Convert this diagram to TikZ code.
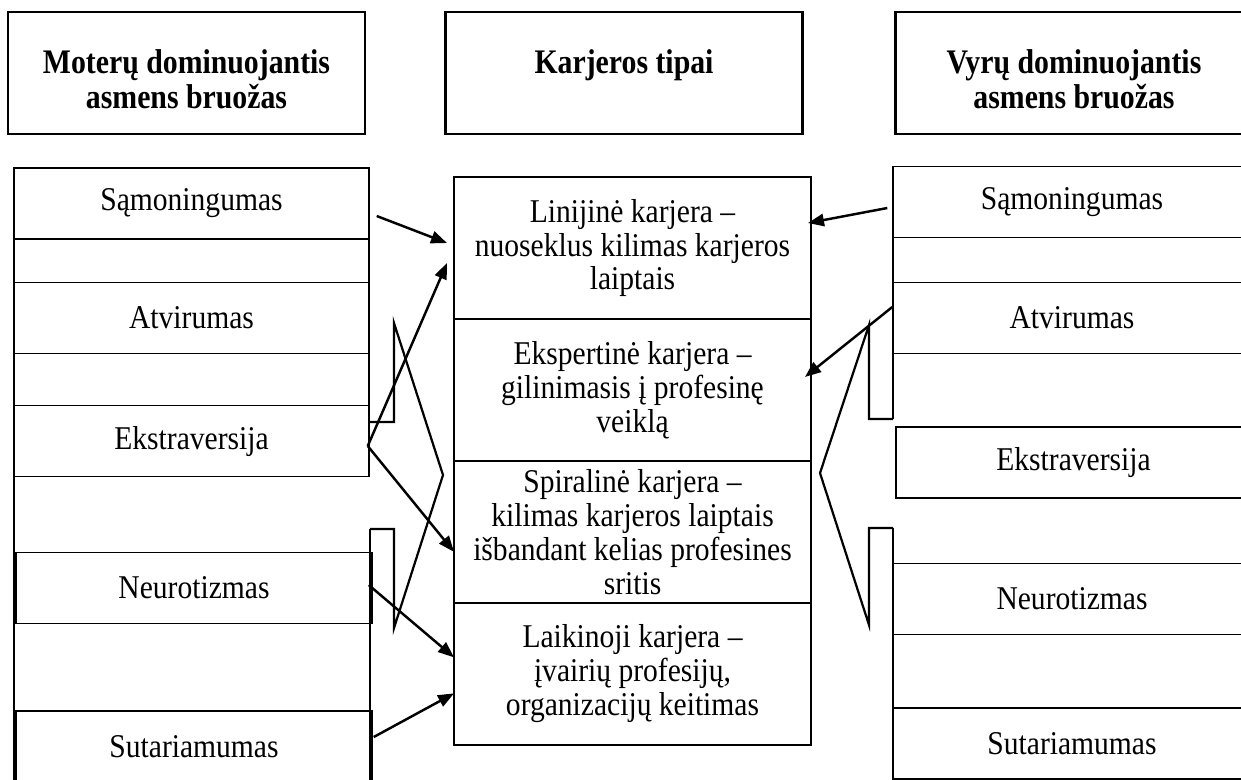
\documentclass[tikz,border=0pt]{standalone}
\usepackage{fontspec}
\setmainfont{Liberation Serif}[FakeStretch=0.89, BoldFeatures={FakeStretch=0.865}]
\usetikzlibrary{arrows.meta,positioning}
\newcommand{\headtext}[1]{\raisebox{-4.6pt}[\height][\depth]{\begin{tabular}{@{}c@{}}#1\end{tabular}}}
\tikzstyle{head} = [draw, line width=1.2pt, rectangle, minimum width=145.1pt, minimum height=49.6pt, align=center, font=\fontsize{14}{14.2}\selectfont\bfseries]
\tikzstyle{typecell} = [draw, line width=0.6pt, rectangle, minimum width=145.1pt, minimum height=57.7pt, outer sep=0pt, align=center, font=\fontsize{13.5}{13.8}\selectfont]
\tikzstyle{trait} = [draw, line width=0.6pt, rectangle, minimum width=144.3pt, minimum height=28.9pt, font=\fontsize{13.5}{13.8}\selectfont]
\tikzstyle{frame} = [draw, line width=0.6pt]
\tikzstyle{arrowline} = [draw, line width=1pt, -{Triangle[length=6.5pt,width=5pt]}]

\begin{document}
\begin{tikzpicture}[x=0.4065pt, y=-0.4065pt]
    \useasboundingbox (0,0) rectangle (1241,779);

    % Place nodes
    \node [head] (hWomen) at (186.5,73) {\headtext{Moterų dominuojantis\\ asmens bruožas}};
    \node [head] (hTypes) at (624,73) {\headtext{Karjeros tipai\\ \strut}};
    \node [head] (hMen) at (1074,73) {\headtext{Vyrų dominuojantis\\ asmens bruožas}};

    \node [typecell] (linear) at (632.5,248) {Linijinė karjera --\\ nuoseklus kilimas karjeros\\ laiptais};
    \node [typecell, below=0pt of linear] (expert) {Ekspertinė karjera --\\ gilinimasis į profesinę\\ veiklą};
    \node [typecell, below=0pt of expert] (spiral) {Spiralinė karjera --\\ kilimas karjeros laiptais\\ išbandant kelias profesines\\ sritis};
    \node [typecell, below=0pt of spiral] (transit) {Laikinoji karjera --\\ įvairių profesijų,\\ organizacijų keitimas};

    \node [trait] (wSam) at (191.5,203.5) {Sąmoningumas};
    \node [trait] (wAtv) at (191.5,318) {Atvirumas};
    \node [trait] (wEks) at (191.5,441) {Ekstraversija};
    \node [trait, minimum width=144.7pt] (wNeu) at (194,588) {Neurotizmas};
    \node [trait, minimum width=144.7pt] (wSut) at (194,746.5) {Sutariamumas};

    \node [trait, minimum width=145.5pt] (mSam) at (1072,202) {Sąmoningumas};
    \node [trait, minimum width=145.5pt] (mAtv) at (1072,318) {Atvirumas};
    \node [trait] (mEks) at (1073.5,462.5) {Ekstraversija};
    \node [trait, minimum width=145.5pt] (mNeu) at (1072,599) {Neurotizmas};
    \node [trait, minimum width=145.5pt] (mSut) at (1072,743.5) {Sutariamumas};

    % Column frames and brackets
    \draw [frame] (14,168) -- (14,790);
    \draw [frame] (369,168) -- (369,476);
    \draw [frame] (370,529) -- (370,790);
    \draw [frame] (893,167) -- (893,419);
    \draw [frame] (893,528) -- (893,790);
    \draw [frame, line width=0.9pt] (369,422) -- (394,422) -- (394,323) -- (443,475) -- (394,628) -- (394,529) -- (370,529);
    \draw [frame, line width=0.9pt] (893,419) -- (869,419) -- (869,325) -- (820,473) -- (869,625) -- (869,528) -- (893,528);

    % Draw edges
    \path [arrowline] ([shift={(7,12.5)}]wSam.east) -- ([shift={(-7,-5)}]linear.west);
    \path [arrowline] ([shift={(-2,5)}]wEks.east) -- ([shift={(-7,15)}]linear.west);
    \path [arrowline] ([shift={(-2,5)}]wEks.east) -- ([shift={(0,20)}]spiral.west);
    \path [arrowline] ([shift={(-4,-3)}]wNeu.east) -- ([shift={(0,-16.5)}]transit.west);
    \path [arrowline] ([shift={(1,-9.5)}]wSut.east) -- ([shift={(0,19.5)}]transit.west);
    \path [arrowline] ([shift={(-5,6)}]mSam.west) -- ([shift={(-3,-25)}]linear.east);
    \path [arrowline] ([shift={(0,-11)}]mAtv.west) -- ([shift={(-6,-13)}]expert.east);
\end{tikzpicture}
\end{document}
